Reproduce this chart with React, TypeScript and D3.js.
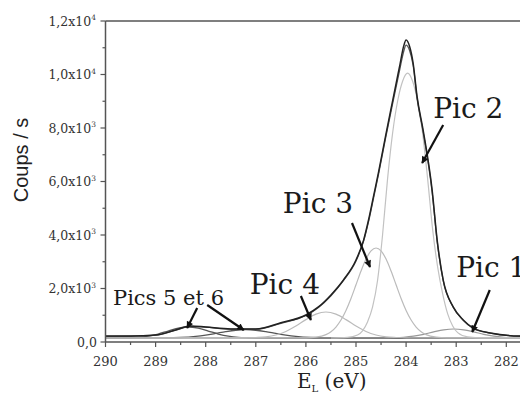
import React from "react";
import * as d3 from "d3";

// ---- data (binding energy eV, counts/s) ----
const xTicks = [290, 289, 288, 287, 286, 285, 284, 283, 282];
const yTicks = [0, 2000, 4000, 6000, 8000, 10000, 12000];
const yTickLabels = ["0,0", "2,0x10", "4,0x10", "6,0x10", "8,0x10", "1,0x10", "1,2x10"];
const yTickExp = ["", "3", "3", "3", "3", "4", "4"];

const mesureE = [290, 289.5, 289, 288.6, 288.3, 288, 287.5, 287, 286.5, 286, 285.75, 285.5, 285.25, 285, 284.85, 284.75, 284.65, 284.55, 284.41, 284.26, 284.12, 284.05, 284.0, 283.93, 283.86, 283.78, 283.66, 283.48, 283.38, 283.26, 283.06, 282.86, 282.66, 282.32, 281.73, 281];
const mesureV = [224, 224, 260, 450, 600, 560, 490, 490, 720, 1010, 1310, 1760, 2320, 3065, 3800, 4560, 5450, 6350, 7700, 9100, 10400, 11050, 11290, 11050, 10430, 9160, 7925, 5680, 3810, 2320, 1310, 820, 520, 340, 224, 210];
const fitV = [210, 215, 255, 440, 585, 555, 480, 480, 700, 990, 1290, 1730, 2300, 3030, 3760, 4500, 5380, 6280, 7620, 9000, 10250, 10850, 11100, 10900, 10350, 9100, 7850, 5600, 3760, 2300, 1300, 810, 510, 330, 215, 200];

const pic2E = [285.5, 285.17, 284.97, 284.87, 284.77, 284.67, 284.57, 284.47, 284.37, 284.27, 284.17, 284.07, 283.97, 283.87, 283.77, 283.67, 283.57, 283.47, 283.37, 283.27, 283.17, 283.07, 282.97, 282.77, 282.47, 281];
const pic2V = [150, 170, 260, 420, 750, 1300, 2300, 4000, 6100, 7800, 9000, 9750, 10050, 9750, 9000, 7800, 6100, 4200, 2800, 1800, 1050, 600, 350, 190, 155, 150];

const pic3E = [290, 286.0, 285.8, 285.6, 285.5, 285.4, 285.3, 285.2, 285.1, 285.0, 284.9, 284.8, 284.7, 284.6, 284.5, 284.4, 284.3, 284.2, 284.1, 284.0, 283.9, 283.8, 283.7, 283.6, 283.4, 283.2, 281];
const pic3V = [150, 152, 179, 275, 384, 560, 821, 1180, 1628, 2138, 2652, 3100, 3405, 3514, 3405, 3100, 2652, 2138, 1628, 1180, 821, 560, 384, 275, 179, 152, 150];

const pic4E = [290, 287.2, 287.0, 286.8, 286.6, 286.4, 286.2, 286.0, 285.8, 285.6, 285.4, 285.2, 285.0, 284.8, 284.6, 284.4, 284.2, 284.0, 281];
const pic4V = [150, 155, 168, 193, 261, 392, 595, 836, 1040, 1121, 1040, 836, 595, 392, 261, 193, 168, 155, 150];

const pic1E = [290, 284.35, 284.05, 283.85, 283.65, 283.45, 283.25, 283.05, 282.85, 282.65, 282.45, 282.25, 282.05, 281.75, 281];
const pic1V = [150, 155, 178, 219, 288, 377, 454, 486, 454, 377, 288, 219, 178, 155, 150];

const pic5E = [290, 289.65, 289.35, 289.15, 288.95, 288.75, 288.55, 288.35, 288.15, 287.95, 287.75, 287.55, 287.35, 287.05, 286.7, 281];
const pic5V = [150, 152, 174, 217, 298, 411, 516, 560, 516, 411, 298, 217, 174, 155, 150, 150];

const pic6E = [290, 288.8, 288.5, 288.2, 288.0, 287.8, 287.6, 287.4, 287.2, 287.0, 286.8, 286.6, 286.4, 286.2, 285.9, 285.6, 281];
const pic6V = [150, 156, 169, 210, 258, 321, 388, 440, 460, 440, 388, 321, 258, 210, 169, 156, 150];

const fondE = [290, 281];
const fondV = [150, 150];

// annotations: label text, label anchor (eV, counts), arrows [e0, v0, e1, v1]
const labelTexts = ["Pic 2", "Pic 3", "Pic 4", "Pic 1", "Pics 5 et 6"];
const labelE = [283.46, 286.46, 287.12, 283.0, 289.85];
const labelV = [8372, 4822, 1794, 2430, 1383];
const labelSize = [28, 28, 28, 28, 21];
const arrows = [
  [283.26, 8111, 283.68, 6691],
  [285.08, 4448, 284.72, 2804],
  [286.1, 1720, 285.9, 822],
  [282.33, 1944, 282.68, 374],
  [288.17, 1271, 288.37, 523],
  [287.97, 1383, 287.24, 449],
];

export default function App() {
  const W = 520, H = 396;
  const left = 105.5, top = 21, bottom = 342;
  const x = d3.scaleLinear().domain([290, 281]).range([left, left + 9 * 50.1]);
  const y = d3.scaleLinear().domain([0, 12000]).range([bottom, top]);

  const line = (es: number[], vs: number[]) =>
    d3.line<number>()
      .x((_, i) => x(es[i]))
      .y((v) => y(v))
      .curve(d3.curveMonotoneX)(vs) || "";

  const minorX = d3.range(290, 280.9, -0.5);
  const minorY = d3.range(0, 12001, 1000);
  const axisColor = "#555";
  const serif = "'DejaVu Serif', serif";

  return (
    <svg width={W} height={H} style={{ position: "absolute", left: 0, top: 0, background: "#fff" }}>
      <defs>
        <marker id="ah" viewBox="0 0 10 10" refX="9" refY="5" markerWidth="9" markerHeight="7" markerUnits="userSpaceOnUse" orient="auto">
          <path d="M0,0 L10,5 L0,10 z" fill="#111" />
        </marker>
        <clipPath id="plot">
          <rect x={left} y={top - 5} width={W - left} height={bottom - top + 5} />
        </clipPath>
      </defs>

      {/* curves */}
      <g clipPath="url(#plot)" fill="none">
        <path d={line(fondE, fondV)} stroke="#aaa" strokeWidth={1.2} />
        <path d={line(pic5E, pic5V)} stroke="#555" strokeWidth={1.3} />
        <path d={line(pic6E, pic6V)} stroke="#555" strokeWidth={1.3} />
        <path d={line(pic1E, pic1V)} stroke="#999" strokeWidth={1.2} />
        <path d={line(pic4E, pic4V)} stroke="#bbb" strokeWidth={1.2} />
        <path d={line(pic3E, pic3V)} stroke="#bbb" strokeWidth={1.2} />
        <path d={line(pic2E, pic2V)} stroke="#c2c2c2" strokeWidth={1.2} />
        <path d={line(mesureE, fitV)} stroke="#555" strokeWidth={1.3} />
        <path d={line(mesureE, mesureV)} stroke="#222" strokeWidth={1.5} />
      </g>

      {/* axes */}
      <line x1={left} x2={W} y1={top} y2={top} stroke={axisColor} strokeWidth={1.5} />
      <line x1={left} x2={left} y1={top} y2={bottom} stroke={axisColor} strokeWidth={1.5} />
      <line x1={left} x2={W} y1={bottom} y2={bottom} stroke={axisColor} strokeWidth={1.5} />
      {minorX.map((t) => {
        const major = Math.abs(t - Math.round(t)) < 1e-6;
        return <line key={"mx" + t} x1={x(t)} x2={x(t)} y1={bottom} y2={bottom + (major ? 5 : 3)} stroke={axisColor} strokeWidth={1.2} />;
      })}
      {minorY.map((t) => {
        const major = t % 2000 === 0;
        return <line key={"my" + t} x1={left - (major ? 5 : 3)} x2={left} y1={y(t)} y2={y(t)} stroke={axisColor} strokeWidth={1.2} />;
      })}
      {xTicks.map((t) => (
        <text key={"xt" + t} x={x(t)} y={366} textAnchor="middle" fontFamily={serif} fontSize={13} fill="#333">{t}</text>
      ))}
      {yTicks.map((t, i) => (
        <text key={"yt" + t} x={yTickExp[i] ? 96 : 97} y={y(t) + 4.5} textAnchor="end" fontFamily={serif} fontSize={12.5} fill="#333">
          {yTickLabels[i]}
          {yTickExp[i] ? <tspan fontSize={7.5} dy={-5.5}>{yTickExp[i]}</tspan> : null}
        </text>
      ))}

      {/* axis titles */}
      <text x={297} y={388} fontFamily={serif} fontSize={20} fill="#222">
        E<tspan fontSize={10} dy={4}>L</tspan><tspan dy={-4}> (eV)</tspan>
      </text>
      <text transform="translate(28,160) rotate(-90)" textAnchor="middle" fontFamily="'Liberation Sans', Arial, sans-serif" fontSize={20} fill="#222">Coups / s</text>

      {/* annotations */}
      {labelTexts.map((t, i) => (
        <text key={t} x={x(labelE[i])} y={y(labelV[i])} fontFamily={serif} fontSize={labelSize[i]} fill="#1a1a1a">{t}</text>
      ))}
      {arrows.map((a, i) => (
        <line key={"ar" + i} x1={x(a[0])} y1={y(a[1])} x2={x(a[2])} y2={y(a[3])} stroke="#111" strokeWidth={2.2} markerEnd="url(#ah)" />
      ))}
    </svg>
  );
}
